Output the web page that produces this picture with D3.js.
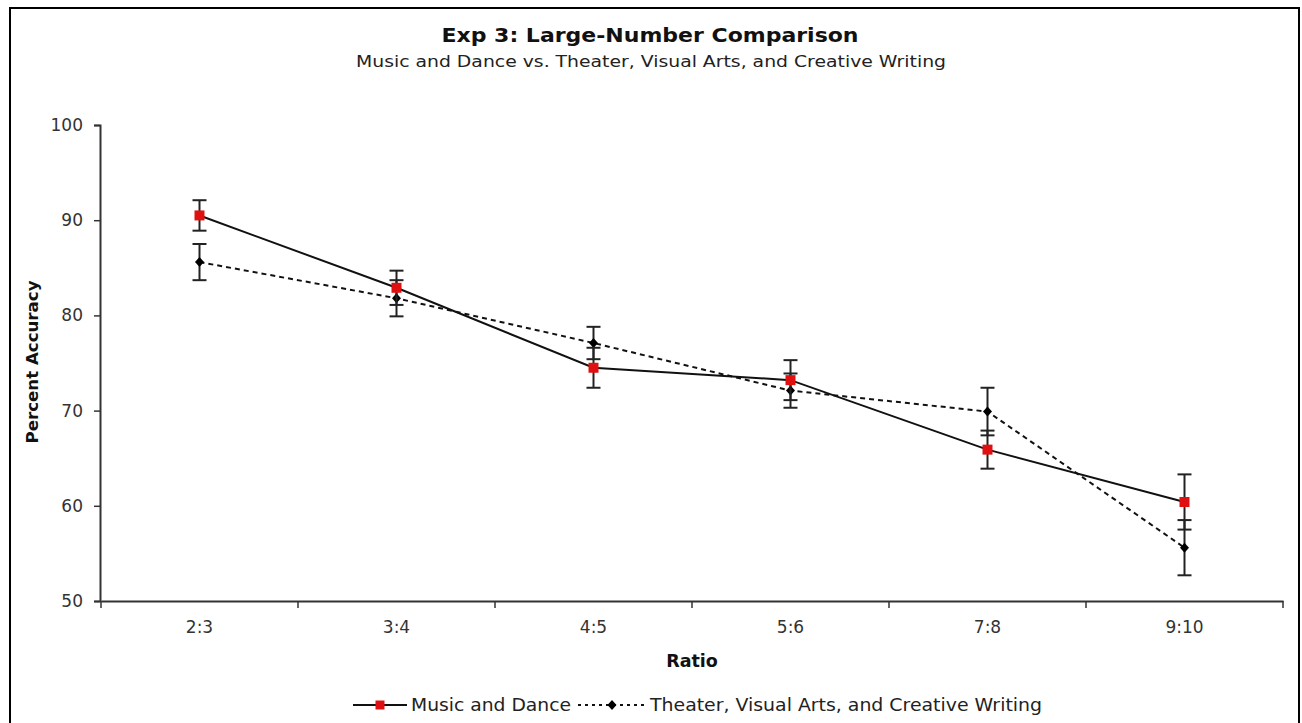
<!DOCTYPE html>
<html><head><meta charset="utf-8">
<script src="https://cdn.jsdelivr.net/npm/d3@7"></script>
<style>body{margin:0;background:#fff}svg{display:block}</style>
</head><body>
<script>
const categories = ["2:3","3:4","4:5","5:6","7:8","9:10"];
const musicDance = [90.5, 82.9, 74.5, 73.2, 65.9, 60.4];
const musicDanceErr = [1.6, 1.8, 2.1, 2.1, 2.0, 2.9];
const theaterArts = [85.6, 81.8, 77.1, 72.1, 69.9, 55.6];
const theaterArtsErr = [1.9, 1.9, 1.7, 1.8, 2.5, 2.9];
const yTicks = [50, 60, 70, 80, 90, 100];
const seriesNames = ["Music and Dance", "Theater, Visual Arts, and Creative Writing"];

const W = 1302, H = 723;
const font = "Verdana, 'DejaVu Sans', sans-serif";
const svg = d3.select("body").append("svg").attr("width", W).attr("height", H);

svg.append("rect").attr("x", 10).attr("y", 8).attr("width", 1289).attr("height", 730)
  .attr("fill", "none").attr("stroke", "#000").attr("stroke-width", 2);

const x = d3.scaleBand().domain(categories).range([101, 1283]);
const y = d3.scaleLinear().domain([50, 100]).range([601, 125]);

svg.append("text").attr("x", 650).attr("y", 42).attr("text-anchor", "middle")
  .attr("font-family", font).attr("font-weight", "bold").attr("font-size", 19.5)
  .attr("textLength", 417).attr("lengthAdjust", "spacingAndGlyphs").attr("fill", "#111")
  .text("Exp 3: Large-Number Comparison");
svg.append("text").attr("x", 651).attr("y", 67).attr("text-anchor", "middle")
  .attr("font-family", font).attr("font-size", 16.5).attr("fill", "#222")
  .attr("textLength", 590).attr("lengthAdjust", "spacingAndGlyphs")
  .text("Music and Dance vs. Theater, Visual Arts, and Creative Writing");

// y axis
const yAxis = svg.append("g").attr("transform", "translate(100,0)")
  .call(d3.axisLeft(y).tickValues(yTicks).tickSize(6).tickPadding(11));
// x axis
const xAxis = svg.append("g").attr("transform", "translate(0,601)")
  .call(d3.axisBottom(x).tickSize(0).tickPadding(20));
xAxis.selectAll(".tick").append("line")
  .attr("x1", x.bandwidth()/2).attr("x2", x.bandwidth()/2).attr("y1", 0).attr("y2", 7);
xAxis.append("line").attr("class", "endtick").attr("x1", 101).attr("x2", 101).attr("y1", 0).attr("y2", 7);
[yAxis, xAxis].forEach(a => {
  a.select(".domain").attr("stroke", "#333").attr("stroke-width", 2);
  a.selectAll("line").attr("stroke", "#333").attr("stroke-width", 1.5);
  a.selectAll("text").attr("font-family", font).attr("font-size", 17).attr("fill", "#333");
});

svg.append("text").attr("x", 692).attr("y", 667).attr("text-anchor", "middle")
  .attr("font-family", font).attr("font-weight", "bold").attr("font-size", 17.5).attr("fill", "#111").text("Ratio");
svg.append("text").attr("transform", "translate(38,362) rotate(-90)").attr("text-anchor", "middle")
  .attr("font-family", font).attr("font-weight", "bold").attr("font-size", 16.5).attr("fill", "#111")
  .attr("textLength", 163).attr("lengthAdjust", "spacingAndGlyphs").text("Percent Accuracy");

const cx = c => x(c) + x.bandwidth()/2;
const line = d3.line().x(d => cx(d.c)).y(d => y(d.v));

function drawSeries(vals, errs, dashed, marker) {
  const data = categories.map((c, i) => ({c, v: vals[i], e: errs[i]}));
  const g = svg.append("g");
  g.append("path").datum(data).attr("d", line).attr("fill", "none").attr("stroke", "#111")
    .attr("stroke-width", 2).attr("stroke-dasharray", dashed ? "5,4" : null);
  const eb = g.selectAll(".eb").data(data).enter().append("g");
  eb.append("line").attr("x1", d => cx(d.c)).attr("x2", d => cx(d.c))
    .attr("y1", d => y(d.v + d.e)).attr("y2", d => y(d.v - d.e)).attr("stroke", "#222").attr("stroke-width", 2);
  [1, -1].forEach(s => eb.append("line").attr("x1", d => cx(d.c) - 7).attr("x2", d => cx(d.c) + 7)
    .attr("y1", d => y(d.v + s*d.e)).attr("y2", d => y(d.v + s*d.e)).attr("stroke", "#222").attr("stroke-width", 2));
  g.selectAll(".m").data(data).enter().append("path")
    .attr("transform", d => `translate(${cx(d.c)},${y(d.v)})`)
    .attr("d", marker).attr("fill", dashed ? "#000" : "#e01010");
}
const sq = "M-5,-5H5V5H-5Z";
const dia = "M0,-5L4.5,0L0,5L-4.5,0Z";
drawSeries(theaterArts, theaterArtsErr, true, dia);
drawSeries(musicDance, musicDanceErr, false, sq);

// legend
const lg = svg.append("g");
lg.append("line").attr("x1", 353).attr("x2", 407).attr("y1", 705).attr("y2", 705).attr("stroke", "#111").attr("stroke-width", 2);
lg.append("path").attr("transform", "translate(380,705)").attr("d", "M-4.5,-4.5H4.5V4.5H-4.5Z").attr("fill", "#e01010");
lg.append("text").attr("x", 411).attr("y", 711).attr("font-family", font).attr("font-size", 17).attr("fill", "#222")
  .attr("textLength", 160).attr("lengthAdjust", "spacingAndGlyphs").text(seriesNames[0]);
lg.append("line").attr("x1", 578).attr("x2", 648).attr("y1", 705).attr("y2", 705).attr("stroke", "#111").attr("stroke-width", 2).attr("stroke-dasharray", "3,4");
lg.append("path").attr("transform", "translate(612,705)").attr("d", dia).attr("fill", "#000");
lg.append("text").attr("x", 650).attr("y", 711).attr("font-family", font).attr("font-size", 17).attr("fill", "#222")
  .attr("textLength", 392).attr("lengthAdjust", "spacingAndGlyphs").text(seriesNames[1]);
</script>
</body></html>
